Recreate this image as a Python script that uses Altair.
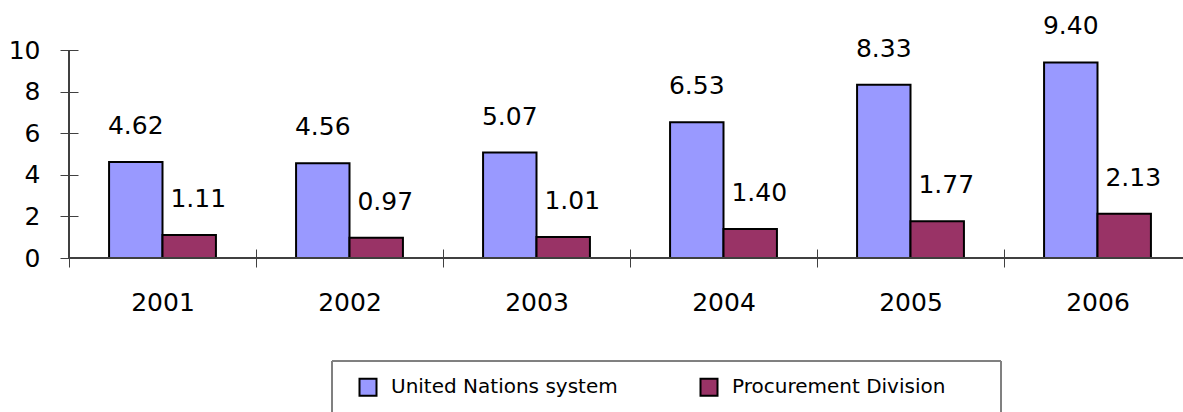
import altair as alt
import pandas as pd

# Annual procurement volume (billions of US dollars)
years = ["2001", "2002", "2003", "2004", "2005", "2006"]
un_system = [4.62, 4.56, 5.07, 6.53, 8.33, 9.40]
procurement_division = [1.11, 0.97, 1.01, 1.40, 1.77, 2.13]
series_names = ["United Nations system", "Procurement Division"]
series_colors = ["#9999FF", "#993366"]
y_ticks = [0, 2, 4, 6, 8, 10]

rows = []
for i, yr in enumerate(years):
    rows.append({"year": yr, "series": series_names[0], "value": un_system[i]})
    rows.append({"year": yr, "series": series_names[1], "value": procurement_division[i]})
df = pd.DataFrame(rows)

FONT = "DejaVu Sans"
AXIS_COLOR = "#404040"
PLOT_W = 1114
PLOT_H = 208

x_enc = alt.X(
    "year:N",
    sort=years,
    scale=alt.Scale(range=[0, 1122], paddingInner=0, paddingOuter=0),
    axis=alt.Axis(
        title=None,
        domain=False,
        tickSize=18,
        tickColor=AXIS_COLOR,
        tickWidth=1,
        tickBand="extent",
        offset=-9,
        labelAngle=0,
        labelFont=FONT,
        labelFontSize=25,
        labelColor="black",
        labelBaseline="alphabetic",
        labelPadding=43,
    ),
)
y_scale = alt.Scale(domain=[0, 10], nice=False)
y_enc = alt.Y(
    "value:Q",
    scale=y_scale,
    axis=alt.Axis(
        title=None,
        values=y_ticks,
        domain=False,
        grid=False,
        tickSize=18,
        tickColor=AXIS_COLOR,
        tickWidth=1,
        offset=-9,
        labelFont=FONT,
        labelFontSize=25,
        labelColor="black",
        labelPadding=20,
    ),
)
offset_enc = alt.XOffset(
    "series:N",
    sort=series_names,
    scale=alt.Scale(paddingOuter=0.75, paddingInner=0),
)
color_enc = alt.Color(
    "series:N",
    sort=series_names,
    scale=alt.Scale(domain=series_names, range=series_colors),
    legend=alt.Legend(
        title=None,
        orient="none",
        legendX=289,
        legendY=327,
        direction="horizontal",
        columns=2,
        columnPadding=78,
        symbolType="square",
        symbolSize=289,
        symbolStrokeColor="black",
        symbolStrokeWidth=2,
        symbolOpacity=1,
        labelFont=FONT,
        labelFontSize=20,
        labelColor="black",
        labelOffset=13,
        labelLimit=0,
        padding=0,
    ),
)

bars = alt.Chart(df).mark_bar(stroke="black", strokeWidth=2, opacity=1).encode(
    x=x_enc, y=y_enc, xOffset=offset_enc, color=color_enc
)

def value_labels(series, dx):
    return (
        alt.Chart(df)
        .transform_filter(alt.datum.series == series)
        .mark_text(font=FONT, fontSize=25, color="black", baseline="alphabetic", dy=-28, dx=dx)
        .encode(
            x=alt.X("year:N", sort=years),
            y=alt.Y("value:Q"),
            xOffset=alt.XOffset("series:N", sort=series_names),
            text=alt.Text("value:Q", format=".2f"),
        )
    )

labels_un = value_labels(series_names[0], 0)
labels_pd = value_labels(series_names[1], 9)

# Axis lines
x_line = alt.Chart(df).mark_rule(color=AXIS_COLOR, strokeWidth=1).encode(
    x=alt.value(0), x2=alt.value(PLOT_W), y=alt.datum(0)
)
y_line = alt.Chart(df).mark_rule(color=AXIS_COLOR, strokeWidth=1).encode(
    x=alt.value(0), y=alt.datum(10), y2=alt.datum(0)
)

# Frame around the legend
legend_box = alt.Chart(df).mark_rect(
    fill="white", fillOpacity=0, stroke="#808080", strokeWidth=1
).encode(
    x=alt.value(263), x2=alt.value(932), y=alt.value(311), y2=alt.value(366)
)

chart = (
    alt.layer(legend_box, bars, labels_un, labels_pd, x_line, y_line)
    .properties(
        width=PLOT_W,
        height=PLOT_H,
        autosize=alt.AutoSizeParams(type="none"),
        padding={"left": 69, "top": 50, "right": 0, "bottom": 154},
        background="white",
    )
    .configure_view(stroke=None)
)

chart.save("out.html", embed_options={"renderer": "svg", "actions": False})
